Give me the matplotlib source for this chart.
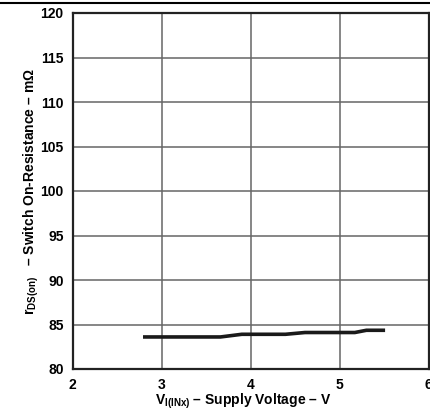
import matplotlib
matplotlib.use("Agg")
import matplotlib.pyplot as plt
from matplotlib.lines import Line2D

plt.rcParams['font.family'] = ['Liberation Sans', 'DejaVu Sans']
plt.rcParams['font.weight'] = 'bold'
plt.rcParams['mathtext.fontset'] = 'custom'
plt.rcParams['mathtext.rm'] = 'Liberation Sans:bold'
plt.rcParams['mathtext.bf'] = 'Liberation Sans:bold'
plt.rcParams['mathtext.it'] = 'Liberation Sans:bold'

# data
voltage = [2.79, 3.66, 3.90, 4.39, 4.61, 5.17, 5.30, 5.51]
resistance = [83.6, 83.6, 83.9, 83.9, 84.1, 84.1, 84.35, 84.35]
x_ticks = [2, 3, 4, 5, 6]
y_ticks = [80, 85, 90, 95, 100, 105, 110, 115, 120]

W, H = 431, 417
L, R, B, T = 72.7, 428.7, 369, 13
fig = plt.figure(figsize=(W / 100, H / 100), dpi=100)
ax = fig.add_axes([L / W, 1 - B / H, (R - L) / W, (B - T) / H])

ax.plot(voltage, resistance, color='#1a1a1a', lw=2.6, solid_capstyle='butt', zorder=3)

ax.set_xlim(2, 6)
ax.set_ylim(80, 120)
ax.set_xticks(x_ticks)
ax.set_yticks(y_ticks)
ax.grid(True, color='#666666', lw=1.1)
ax.tick_params(length=0, labelsize=10, pad=6.5)
for lbl in ax.get_xticklabels() + ax.get_yticklabels():
    lbl.set_fontweight('bold')
for s in ax.spines.values():
    s.set_color('#222222')
    s.set_linewidth(1.6)

ax.set_xlabel(r'V$_{\mathregular{I(INx)}}$ – Supply Voltage – V', fontsize=10,
              fontweight='bold', va='center')
ax.xaxis.set_label_coords((243.5 - L) / (R - L), (B - 401) / (B - T))
ax.set_ylabel(r'r$_{\mathregular{DS(on)}}$   – Switch On-Resistance – m$\Omega$',
              fontsize=10, fontweight='bold', va='center')
ax.yaxis.set_label_coords((31 - L) / (R - L), (B - 192) / (B - T))

fig.add_artist(Line2D([0, 1], [1 - 2.5 / H, 1 - 2.5 / H], color='black', lw=1.5,
                      transform=fig.transFigure))

fig.savefig('out.png', dpi=100)
